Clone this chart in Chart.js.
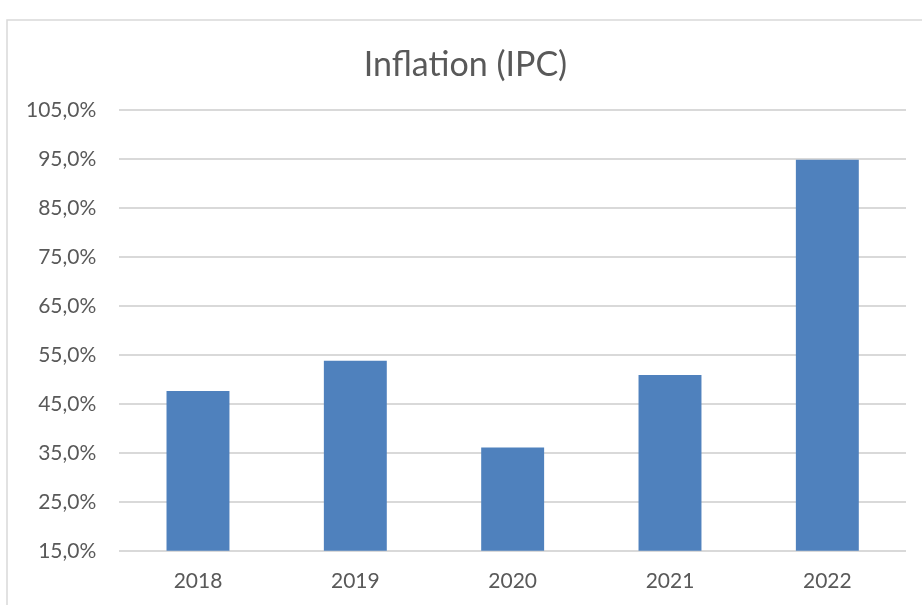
<!DOCTYPE html>
<html>
<head>
<meta charset="utf-8">
<script src="https://cdn.jsdelivr.net/npm/chart.js@4"></script>
<style>
  html, body { margin: 0; padding: 0; background: #fff; }
  #wrap { width: 922px; height: 605px; position: relative; }
</style>
</head>
<body>
<div id="wrap"><canvas id="chart" width="922" height="605"></canvas></div>
<script>
const YEARS = ['2018', '2019', '2020', '2021', '2022']
const INFLATION = [47.6, 53.8, 36.1, 50.9, 94.8]
const Y_MIN = 15
const Y_MAX = 105
const Y_STEP = 10

const TEXT = '#595959'
const BAR = '#4f81bd'
const GRID = '#d9d9d9'
const FONT = 'Lato, "Open Sans", sans-serif'

// light frame around the chart, like the spreadsheet chart box
const frame = {
  id: 'frame',
  afterLayout(chart) {
    // title sits centred on the whole box, not on the padded area
    const t = chart.titleBlock
    if (t) { t.left += 11; t.right += 11 }
  },
  beforeDraw(chart) {
    const c = chart.ctx
    c.save()
    c.strokeStyle = '#d9d9d9'
    c.lineWidth = 1.5
    c.beginPath()
    c.moveTo(7, 605)
    c.lineTo(7, 20)
    c.lineTo(922, 20)
    c.stroke()
    c.restore()
  },
}

new Chart(document.getElementById('chart'), {
  type: 'bar',
  data: {
    labels: YEARS,
    datasets: [{
      label: 'Inflation (IPC)',
      data: INFLATION,
      backgroundColor: BAR,
      borderWidth: 0,
      barPercentage: 0.4,
      categoryPercentage: 1,
    }],
  },
  options: {
    responsive: false,
    animation: false,
    layout: { padding: { left: 3, right: 16, top: 45, bottom: 1 } },
    plugins: {
      legend: { display: false },
      tooltip: { enabled: false },
      title: {
        display: true,
        text: 'Inflation (IPC)',
        color: TEXT,
        font: { family: FONT, size: 34, weight: 'normal' },
        padding: { top: 0, bottom: 24 },
      },
    },
    scales: {
      x: {
        grid: { display: false },
        border: { display: false },
        ticks: { color: TEXT, font: { family: FONT, size: 21 }, padding: 10 },
      },
      y: {
        min: Y_MIN,
        max: Y_MAX,
        ticks: {
          stepSize: Y_STEP,
          color: TEXT,
          font: { family: FONT, size: 21 },
          padding: 23,
          callback: v => v.toFixed(1).replace('.', ',') + '%',
        },
        grid: { color: GRID, lineWidth: 2, drawTicks: false },
        border: { display: false },
      },
    },
  },
  plugins: [frame],
})
</script>
</body>
</html>
